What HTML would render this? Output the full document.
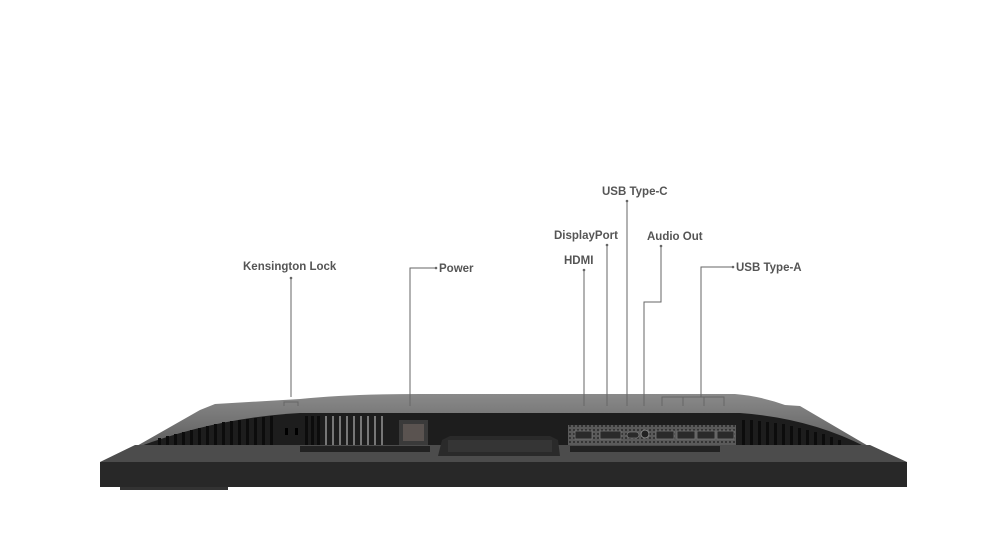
<!DOCTYPE html>
<html><head><meta charset="utf-8"><style>
html,body{margin:0;padding:0;background:#fff;}
svg{display:block;}
text{font-family:"Liberation Sans",sans-serif;font-weight:bold;font-size:11.5px;fill:#555;}
</style></head><body>
<svg width="1000" height="560" viewBox="0 0 1000 560" xmlns="http://www.w3.org/2000/svg">
<defs>
<pattern id="dots" width="4" height="4" patternUnits="userSpaceOnUse">
<rect width="4" height="4" fill="#5a5a5a"/><circle cx="2" cy="2" r="0.9" fill="#1a1a1a"/>
</pattern>
<linearGradient id="top" x1="0" y1="0" x2="0" y2="1">
<stop offset="0" stop-color="#8a8a8a"/><stop offset="1" stop-color="#5e5e5e"/>
</linearGradient>
</defs>
<!-- back cover -->
<path d="M135,447 L200,410 L215,404 L300,399 Q350,394 420,394 L735,394 Q760,396 785,405 L800,406 L870,447 Z" fill="url(#top)"/>
<path d="M138,447 Q215,418 300,413 L740,413 Q810,418 866,447 Z" fill="#1d1d1d"/>
<!-- left vents -->
<g fill="#0c0c0c">
<rect x="158" y="438" width="3" height="8"/><rect x="166" y="436" width="3" height="10"/><rect x="174" y="434" width="3" height="12"/><rect x="182" y="432" width="3" height="14"/><rect x="190" y="430" width="3" height="16"/><rect x="198" y="428" width="3" height="18"/><rect x="206" y="426" width="3" height="20"/><rect x="214" y="424" width="3" height="22"/><rect x="222" y="422" width="3" height="24"/><rect x="230" y="421" width="3" height="25"/><rect x="238" y="420" width="3" height="26"/><rect x="246" y="419" width="3" height="27"/><rect x="254" y="418" width="3" height="28"/><rect x="262" y="417" width="3" height="29"/><rect x="270" y="416" width="3" height="30"/>
<rect x="305" y="416" width="3" height="30"/><rect x="311" y="416" width="3" height="30"/><rect x="317" y="416" width="3" height="30"/>
</g>
<g fill="#777"><rect x="325" y="416" width="2" height="30"/><rect x="332" y="416" width="2" height="30"/><rect x="339" y="416" width="2" height="30"/><rect x="346" y="416" width="2" height="30"/><rect x="353" y="416" width="2" height="30"/><rect x="360" y="416" width="2" height="30"/><rect x="367" y="416" width="2" height="30"/><rect x="374" y="416" width="2" height="30"/><rect x="381" y="416" width="2" height="30"/></g>
<rect x="285" y="428" width="3" height="7" fill="#000"/><rect x="295" y="428" width="3" height="7" fill="#000"/>
<!-- right vents -->
<g fill="#0c0c0c">
<rect x="742" y="420" width="3" height="26"/><rect x="750" y="420" width="3" height="26"/><rect x="758" y="421" width="3" height="25"/><rect x="766" y="422" width="3" height="24"/><rect x="774" y="423" width="3" height="23"/><rect x="782" y="424" width="3" height="22"/><rect x="790" y="426" width="3" height="20"/><rect x="798" y="428" width="3" height="18"/><rect x="806" y="430" width="3" height="16"/><rect x="814" y="432" width="3" height="14"/><rect x="822" y="434" width="3" height="12"/><rect x="830" y="437" width="3" height="9"/><rect x="838" y="440" width="3" height="6"/>
</g>
<!-- power socket -->
<rect x="399" y="420" width="29" height="25" fill="#3a3a3a"/><rect x="403" y="424" width="21" height="17" fill="#5a5350"/>
<!-- ports panel -->
<rect x="568" y="425" width="168" height="22" fill="url(#dots)"/>
<g fill="#2a2a2a" stroke="#777" stroke-width="0.8">
<rect x="575" y="431" width="17" height="8"/><rect x="600" y="431" width="21" height="8"/><rect x="627" y="432" width="12" height="6" rx="3"/>
<rect x="656" y="431" width="18" height="8"/><rect x="677" y="431" width="18" height="8"/><rect x="697" y="431" width="18" height="8"/><rect x="717" y="431" width="17" height="8"/>
</g>
<circle cx="645" cy="434" r="4" fill="#222" stroke="#888"/>
<!-- slab -->
<polygon points="100,462 135,445 870,445 907,462" fill="#4c4c4c"/>
<rect x="570" y="446" width="150" height="6" fill="#222"/>
<rect x="300" y="446" width="130" height="6" fill="#222"/>
<!-- stand mount -->
<path d="M438,456 L442,440 L450,436 L550,436 L558,440 L560,456 Z" fill="#2a2a2a"/>
<rect x="448" y="440" width="104" height="12" fill="#353535"/>
<rect x="100" y="462" width="807" height="25" fill="#282828"/>
<rect x="120" y="487" width="108" height="3" fill="#333"/>
<!-- connectors -->
<g stroke="#666" stroke-width="1" fill="none">
<path d="M291,278 V397 M284,406 V402 H298 V406"/>
<path d="M436,268 H410 V406"/>
<path d="M584,270 V406"/>
<path d="M607,245 V406"/>
<path d="M627,201 V406"/>
<path d="M661,246 V302 H644 V406"/>
<path d="M733,267 H701 V397 M662,406 V397 H724 V406 M683,397 V406 M704,397 V406"/>
</g>
<g fill="#666">
<circle cx="291" cy="278" r="1.3"/><circle cx="436" cy="268" r="1.3"/><circle cx="584" cy="270" r="1.3"/><circle cx="607" cy="245" r="1.3"/><circle cx="627" cy="201" r="1.3"/><circle cx="661" cy="246" r="1.3"/><circle cx="733" cy="267" r="1.3"/>
</g>
<text x="243" y="270">Kensington Lock</text>
<text x="439" y="272">Power</text>
<text x="564" y="264">HDMI</text>
<text x="554" y="239">DisplayPort</text>
<text x="602" y="195">USB Type-C</text>
<text x="647" y="240">Audio Out</text>
<text x="736" y="271">USB Type-A</text>
</svg>
</body></html>
